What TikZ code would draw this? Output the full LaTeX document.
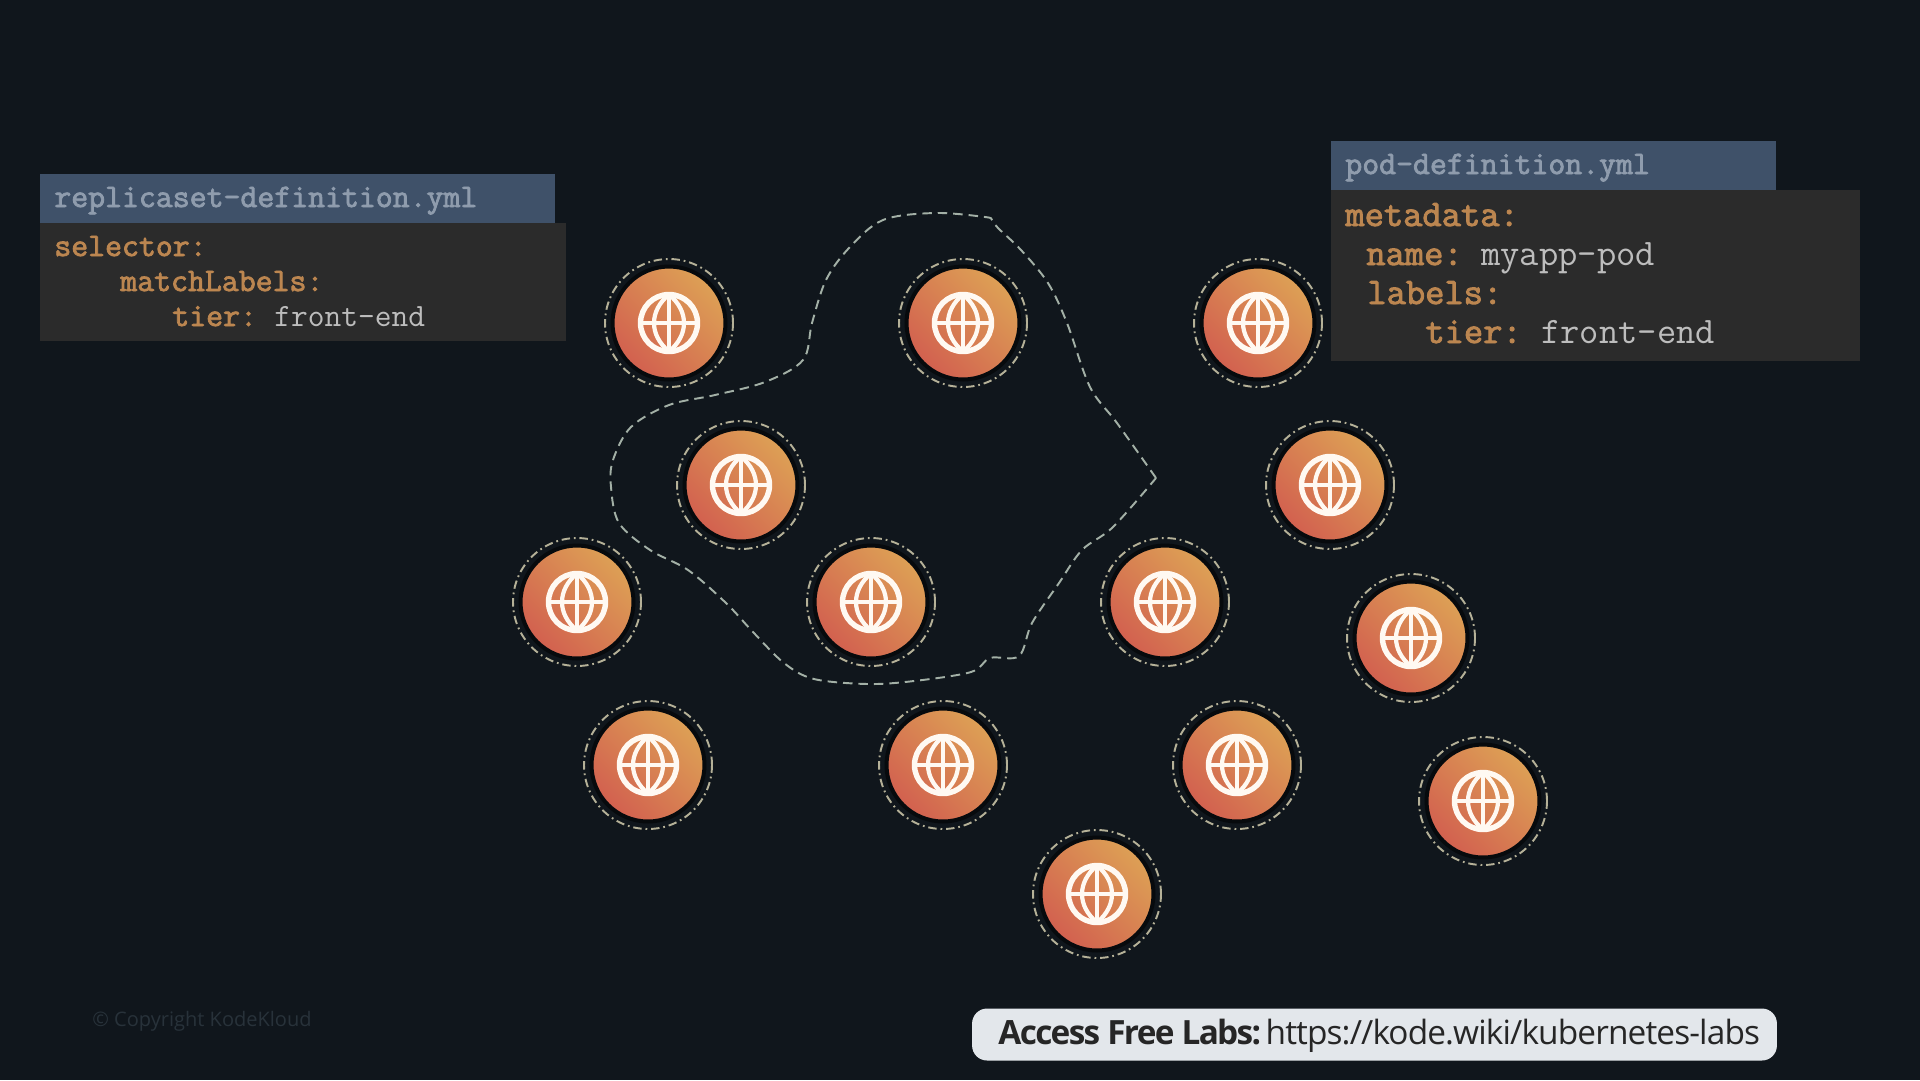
\documentclass[tikz,border=0pt]{standalone}
\usepackage{fontspec}
\newfontfamily\labfont[LetterSpace=-2.6, BoldFeatures={LetterSpace=-5}]{Open Sans}
\newfontfamily\copyfont{Open Sans}
\newfontfamily\keyfont[FakeBold=2.4]{Latin Modern Mono}
\definecolor{pagebg}{HTML}{10161C}
\definecolor{headbg}{HTML}{3F5169}
\definecolor{headtx}{HTML}{8F9CAD}
\definecolor{bodybg}{HTML}{2B2B2B}
\definecolor{keytx}{HTML}{BC8650}
\definecolor{valtx}{HTML}{BDBDBD}
\definecolor{podlo}{HTML}{D2604F}
\definecolor{podhi}{HTML}{DDA055}
\definecolor{ringc}{HTML}{B5B198}
\definecolor{blobc}{HTML}{A3B0A6}
\definecolor{globec}{HTML}{FFF9F2}
\definecolor{copyc}{HTML}{28323A}
\definecolor{labsbg}{HTML}{E3E7EB}
\tikzset{
  headbox/.style={fill=headbg, anchor=north west, inner sep=0pt},
  bodybox/.style={fill=bodybg, anchor=north west, inner sep=0pt},
  headtext/.style={text=headtx, anchor=base west, inner sep=0pt, font=\keyfont\fontsize{18.7}{20}\selectfont},
  keysmall/.style={text=keytx, anchor=base west, inner sep=0pt, font=\keyfont\fontsize{18.7}{20}\selectfont},
  valsmall/.style={text=valtx, anchor=base west, inner sep=0pt, font=\ttfamily\fontsize{18.5}{20}\selectfont},
  keybig/.style={text=keytx, anchor=base west, inner sep=0pt, font=\keyfont\fontsize{21.3}{23}\selectfont},
  valbig/.style={text=valtx, anchor=base west, inner sep=0pt, font=\ttfamily\fontsize{21.3}{23}\selectfont},
  pod/.style={circle, minimum size=2.26cm, inner sep=0pt, draw=black!55!pagebg, line width=0.08cm,
    left color=podlo, right color=podhi, shading angle=135},
  podring/.style={circle, minimum size=2.56cm, inner sep=0pt, draw=ringc, line width=1.1pt,
    dash pattern=on 4.8pt off 2.2pt on 1pt off 2.2pt},
  blobline/.style={draw=blobc, line width=1.1pt, dash pattern=on 5.4pt off 3.4pt},
  globeline/.style={draw=globec, line width=2.4pt},
  globe/.pic={
    \draw[globeline, line width=3.1pt] (0,0) circle (28.5);
    \draw[globeline] (0,-28.5) -- (0,28.5);
    \draw[globeline] (-28.5,0) -- (28.5,0);
    \draw[globeline] (0,-28.5) .. controls (-20,-12) and (-20,12) .. (0,28.5);
    \draw[globeline] (0,-28.5) .. controls (20,-12) and (20,12) .. (0,28.5);
  }
}
\begin{document}
\begin{tikzpicture}[x=0.02cm, y=-0.02cm]
\fill[pagebg] (0,0) rectangle (1920,1080);
\useasboundingbox (0,0) rectangle (1920,1080);

% replicaset panel
\node[bodybox, minimum width=10.52cm, minimum height=2.36cm] (rsbody) at (40,223) {};
\node[headbox, minimum width=10.3cm, minimum height=0.98cm] (rshead) at (40,174) {};
\node[headtext] (rstitle) at (54,207) {replicaset-definition.yml};
\node[keysmall] (rskey1) at (54,256) {selector:};
\node[keysmall] (rskey2) at (120,291) {matchLabels:};
\node[keysmall] (rskey3) at (172,326) {tier:};
\node[valsmall] (rsval3) at (274,326) {front-end};

% pod panel
\node[bodybox, minimum width=10.57cm, minimum height=3.42cm] (pdbody) at (1331,190) {};
\node[headbox, minimum width=8.9cm, minimum height=0.98cm] (pdhead) at (1331,141) {};
\node[headtext] (pdtitle) at (1345,174) {pod-definition.yml};
\node[keybig] (pdkey1) at (1345,226) {metadata:};
\node[keybig] (pdkey2) at (1366,265) {name:};
\node[valbig] (pdval2) at (1481,265) {myapp-pod};
\node[keybig] (pdkey3) at (1367,304) {labels:};
\node[keybig] (pdkey4) at (1425,343) {tier:};
\node[valbig] (pdval4) at (1541,343) {front-end};

% pods
\foreach \x/\y/\n in {669/323/1, 963/323/2, 1258/323/3, 741/485/4, 1330/485/5,
    577/602/6, 871/602/7, 1165/602/8, 1411/638/9, 648/765/10, 943/765/11,
    1237/765/12, 1483/801/13, 1097/894/14} {
  \node[podring] (ring\n) at (\x,\y) {};
  \node[pod] (pod\n) at (\x,\y) {};
  \pic at (\x,\y) {globe};
}

% selected group
\draw[blobline] plot[smooth, tension=0.55] coordinates {(1156,478) (1117,423) (1090,387) (1067,323)
    (1048,283) (1021,250) (998,228) (992,220) (985,217) (935,213) (883,220) (849,248) (826,280) (812,323)
    (803,360) (765,382) (715,395) (669,405) (631,427) (613,460) (611,487) (619,523)
    (650,550) (688,570) (726,603) (753,632) (784,663) (814,679) (868,684) (914,681)
    (971,672) (990,658) (1019,656) (1032,623) (1059,583) (1082,550) (1113,527) (1156,478)};

% footer
\node[text=copyc, anchor=west, inner sep=0pt, font=\copyfont\fontsize{11.4}{13}\selectfont] (copy) at (92,1021) {© Copyright KodeKloud};
\node[fill=labsbg, rounded corners=0.3cm, minimum width=16.1cm, minimum height=1.04cm, inner sep=0pt] (labs) at (1374.5,1034.5) {};
\node[text=black!85, anchor=base west, inner sep=0pt, font=\labfont\fontsize{19}{22}\selectfont] (labstext) at (998,1044) {\textbf{Access Free Labs:}\hspace{3.5pt}https://kode.wiki/kubernetes-labs};
\end{tikzpicture}
\end{document}
